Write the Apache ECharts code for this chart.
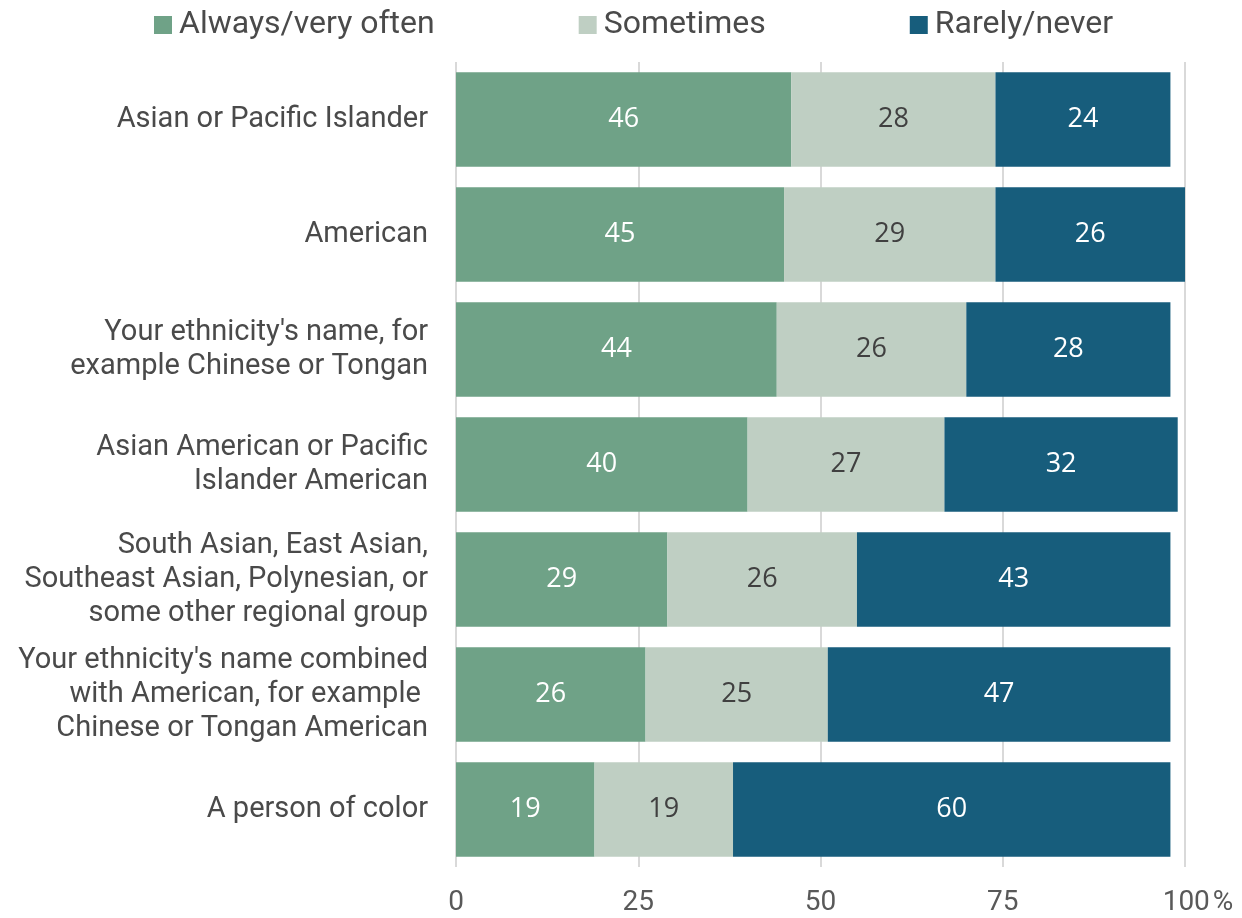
<!DOCTYPE html>
<html>
<head>
<meta charset="utf-8">
<script src="https://cdn.jsdelivr.net/npm/echarts@6/dist/echarts.min.js"></script>
<style>html,body{margin:0;padding:0;background:#fff;}#c{width:1242px;height:918px;}</style>
</head>
<body>
<div id="c"></div>
<script>
var categories = [
  "Asian or Pacific Islander",
  "American",
  "Your ethnicity's name, for\nexample Chinese or Tongan",
  "Asian American or Pacific\nIslander American",
  "South Asian, East Asian,\nSoutheast Asian, Polynesian, or\nsome other regional group",
  "Your ethnicity's name combined\nwith American, for example \nChinese or Tongan American",
  "A person of color"
];
var seriesNames = ["Always/very often", "Sometimes", "Rarely/never"];
var alwaysVals = [46, 45, 44, 40, 29, 26, 19];
var sometimesVals = [28, 29, 26, 27, 26, 25, 19];
var rarelyVals = [24, 26, 28, 32, 43, 47, 60];
var xTicks = [0, 25, 50, 75, 100];

var colors = ["#6fa287", "#bfcfc3", "#175d7c"];
var labelColors = ["#ffffff", "#404040", "#ffffff"];
var values = [alwaysVals, sometimesVals, rarelyVals];

var chart = echarts.init(document.getElementById('c'));
var font = 'Roboto';
chart.setOption({
  animation: false,
  color: colors,
  textStyle: { fontFamily: font },
  legend: {
    top: 4,
    left: 149,
    itemWidth: 18,
    itemHeight: 18,
    itemGap: 144,
    icon: 'rect',
    textStyle: { fontSize: 32, color: '#4a4a4a', fontFamily: font, padding: [0, 0, 0, 2] },
    data: seriesNames
  },
  grid: { left: 456, right: 57, top: 62, bottom: 51, containLabel: false },
  xAxis: {
    type: 'value',
    min: 0, max: 100, interval: 25,
    axisLine: { show: false },
    axisTick: { show: false },
    splitLine: { show: true, lineStyle: { color: '#d9d9d9', width: 2 } },
    axisLabel: {
      fontSize: 28, color: '#595959', margin: 22, fontFamily: font,
      formatter: function (v) {
        if (xTicks.indexOf(v) < 0) return '';
        return v === 100 ? '{a|100}{b|%}' : String(v);
      },
      rich: {
        a: { fontSize: 28, color: '#595959', fontFamily: font, padding: [0, 0, 0, 26] },
        b: { fontSize: 28, color: '#595959', fontFamily: font, padding: [0, 0, 0, 3] }
      }
    }
  },
  yAxis: {
    type: 'category',
    inverse: true,
    data: categories,
    axisLine: { show: false },
    axisTick: { show: false },
    axisLabel: { fontSize: 29, color: '#4a4a4a', margin: 28, lineHeight: 34, align: 'right', fontFamily: font }
  },
  series: values.map(function (vals, i) {
    return {
      name: seriesNames[i],
      type: 'bar',
      stack: 'total',
      barCategoryGap: '18%',
      data: vals,
      itemStyle: { color: colors[i] },
      label: { show: true, position: 'inside', color: labelColors[i], fontSize: 27, fontFamily: 'Open Sans' }
    };
  })
});
</script>
</body>
</html>
